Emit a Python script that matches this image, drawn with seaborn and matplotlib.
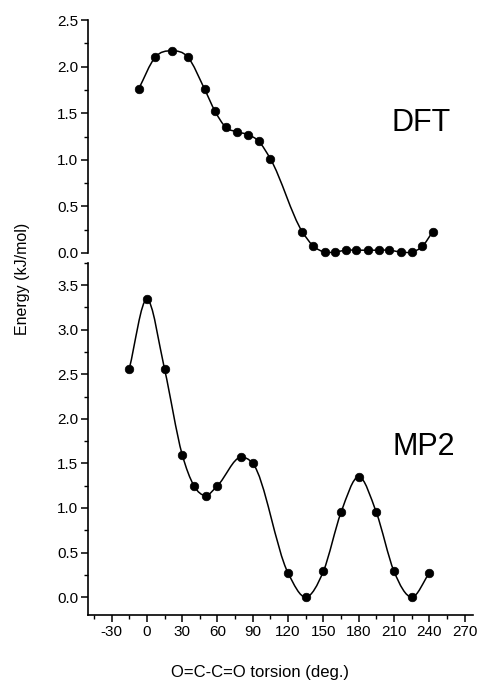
import numpy as np
import matplotlib
matplotlib.use("Agg")
import matplotlib.pyplot as plt
from matplotlib.path import Path
from matplotlib.patches import PathPatch
from matplotlib.ticker import MultipleLocator, FormatStrFormatter
import seaborn as sns

# ---------------------------
# Data
# ---------------------------
dft_angle = [-7, 7, 21, 35, 49, 58, 67, 77, 86, 95, 105,
             132, 141, 151, 160, 169, 178, 188, 197, 206, 216, 225, 234, 243]
dft_energy = [1.76, 2.10, 2.17, 2.10, 1.76, 1.52, 1.35, 1.30, 1.27, 1.20, 1.01,
              0.23, 0.08, 0.01, 0.01, 0.03, 0.03, 0.03, 0.03, 0.03, 0.01, 0.01, 0.07, 0.23]

mp2_angle = [-15, 0, 15, 30, 40, 50, 60, 80, 90, 120, 135, 150, 165, 180, 195, 210, 225, 240]
mp2_energy = [2.56, 3.34, 2.56, 1.60, 1.25, 1.14, 1.25, 1.57, 1.50,
              0.27, 0.00, 0.29, 0.95, 1.35, 0.95, 0.29, 0.00, 0.27]

x_ticks = [-30, 0, 30, 60, 90, 120, 150, 180, 210, 240, 270]


def smooth_path(xs, ys):
    # cubic Hermite curve through the points, drawn as bezier segments
    x = np.asarray(xs, float)
    y = np.asarray(ys, float)
    n = len(x)
    h = np.diff(x)
    d = np.diff(y) / h
    m = np.empty(n)
    m[0], m[-1] = d[0], d[-1]
    for i in range(1, n - 1):
        m[i] = (d[i - 1] * h[i] + d[i] * h[i - 1]) / (h[i - 1] + h[i])
    verts = [(x[0], y[0])]
    codes = [Path.MOVETO]
    for i in range(n - 1):
        verts += [(x[i] + h[i] / 3, y[i] + m[i] * h[i] / 3),
                  (x[i + 1] - h[i] / 3, y[i + 1] - m[i + 1] * h[i] / 3),
                  (x[i + 1], y[i + 1])]
        codes += [Path.CURVE4] * 3
    return Path(verts, codes)


sns.set_style("ticks")
plt.rcParams['font.family'] = ['Liberation Sans', 'DejaVu Sans']
plt.rcParams['axes.unicode_minus'] = False
plt.rcParams['text.color'] = 'black'
plt.rcParams['xtick.color'] = 'black'
plt.rcParams['ytick.color'] = 'black'
plt.rcParams['axes.edgecolor'] = 'black'
plt.rcParams['axes.labelcolor'] = 'black'

fig = plt.figure(figsize=(4.81, 6.81), dpi=100)
ax_top = fig.add_axes([0.183, 0.6285, 0.800, 0.342])
ax_bot = fig.add_axes([0.183, 0.097, 0.800, 0.517])

for ax, xs, ys in [(ax_top, dft_angle, dft_energy), (ax_bot, mp2_angle, mp2_energy)]:
    ax.add_patch(PathPatch(smooth_path(xs, ys), facecolor='none', edgecolor='black',
                           lw=1.1, zorder=2, clip_on=False))
    sns.scatterplot(x=xs, y=ys, ax=ax, color='black', s=38, edgecolor='black',
                    linewidth=0.5, zorder=3, clip_on=False, legend=False)
    ax.set_xlim(-50, 277)
    sns.despine(ax=ax)
    ax.spines['left'].set_linewidth(1.2)
    ax.spines['bottom'].set_linewidth(1.2)
    ax.yaxis.set_minor_locator(MultipleLocator(0.25))
    ax.tick_params(axis='both', which='major', direction='out', length=5, width=1.1,
                   labelsize=11, pad=2)
    ax.tick_params(axis='both', which='minor', direction='out', length=3, width=1.0)
    ax.yaxis.set_major_formatter(FormatStrFormatter('%.1f'))

# top panel (DFT)
ax_top.set_ylim(0, 2.5)
ax_top.set_yticks([0.0, 0.5, 1.0, 1.5, 2.0, 2.5])
ax_top.spines['bottom'].set_visible(False)
ax_top.tick_params(axis='x', which='both', bottom=False, labelbottom=False)
ax_top.text(233, 1.39, "DFT", fontsize=22, ha='center', va='center')

# bottom panel (MP2)
ax_bot.set_ylim(-0.2, 3.75)
ax_bot.set_yticks([0.0, 0.5, 1.0, 1.5, 2.0, 2.5, 3.0, 3.5])
ax_bot.set_xticks(x_ticks)
ax_bot.xaxis.set_minor_locator(MultipleLocator(15))
ax_bot.text(235, 1.68, "MP2", fontsize=22, ha='center', va='center')

fig.text(260 / 481, 1 - 673 / 681, "O=C-C=O torsion (deg.)", fontsize=12,
         ha='center', va='center')
fig.text(23 / 481, 1 - 279 / 681, "Energy (kJ/mol)", rotation=90,
         fontsize=11.5, ha='center', va='center')

fig.savefig("out.png", dpi=100, facecolor='white')
